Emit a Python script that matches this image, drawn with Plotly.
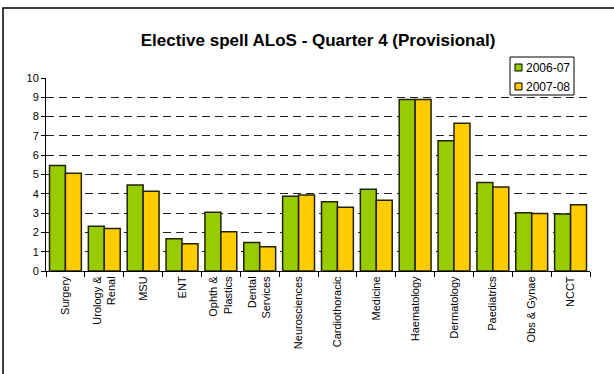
import plotly.graph_objects as go

categories = ["Surgery", "Urology &<br>Renal", "MSU", "ENT", "Ophth &<br>Plastics",
              "Dental<br>Services", "Neurosciences", "Cardiothoracic", "Medicine",
              "Haematology", "Dermatology", "Paediatrics", "Obs & Gynae", "NCCT"]
v2006 = [5.46, 2.32, 4.45, 1.67, 3.04, 1.48, 3.87, 3.59, 4.24, 8.88, 6.75, 4.59, 3.02, 2.95]
v2007 = [5.06, 2.20, 4.13, 1.41, 2.04, 1.26, 3.94, 3.30, 3.66, 8.88, 7.66, 4.35, 2.98, 3.43]
series_names = ["2006-07", "2007-08"]
series_colors = ["#99CC00", "#FFCC00"]
y_ticks = list(range(0, 11))

font = "Liberation Sans, Arial, sans-serif"

# plot area in pixels
X0, X1, Y0, Y1 = 46, 590, 78, 271
def px(x):
    return (x - X0) / (X1 - X0)
def py(y):
    return (Y1 - y) / (Y1 - Y0)

fig = go.Figure()
for name, vals, col in zip(series_names, [v2006, v2007], series_colors):
    fig.add_trace(go.Bar(x=categories, y=vals, name=name, showlegend=False,
                         marker=dict(color=col, line=dict(color="#222200", width=1.5))))

shapes = [dict(type="rect", xref="paper", yref="paper",
               x0=px(3), x1=px(640), y0=py(400), y1=py(8),
               line=dict(color="black", width=1.5), layer="below"),
          dict(type="rect", xref="paper", yref="paper",
               x0=px(510), x1=px(574), y0=py(95), y1=py(57),
               line=dict(color="black", width=1), fillcolor="white", layer="above")]
annotations = []
for i, (name, col) in enumerate(zip(series_names, series_colors)):
    cy = 67.5 + 19 * i
    shapes.append(dict(type="rect", xref="paper", yref="paper",
                       x0=px(515), x1=px(522), y0=py(cy + 3.5), y1=py(cy - 3.5),
                       line=dict(color="black", width=1), fillcolor=col, layer="above"))
    annotations.append(dict(text=name, xref="paper", yref="paper",
                            x=px(524), y=py(cy), xanchor="left", yanchor="middle",
                            showarrow=False, font=dict(size=12, family=font, color="black")))

fig.update_layout(
    width=614, height=374,
    margin=dict(l=X0, r=614 - X1, t=Y0, b=374 - Y1),
    paper_bgcolor="white", plot_bgcolor="white",
    font=dict(family=font, size=11, color="black"),
    barmode="group", bargap=0.18, bargroupgap=0.0,
    title=dict(text="<b>Elective spell ALoS - Quarter 4 (Provisional)</b>",
               x=0.5, xref="paper", xanchor="center", y=1 - 40 / 374, yanchor="middle",
               font=dict(size=17, family=font, color="black")),
    showlegend=False,
    shapes=shapes,
    annotations=annotations,
)
fig.update_xaxes(showline=True, linecolor="black", linewidth=1,
                 ticks="outside", ticklen=5, tickcolor="black", tickson="boundaries",
                 tickangle=-90, tickfont=dict(size=11), showgrid=False)
fig.update_yaxes(range=[0, 10], tickvals=y_ticks, showline=True, linecolor="black",
                 linewidth=1, ticks="outside", ticklen=4, tickcolor="black",
                 showgrid=True, gridcolor="#222222", gridwidth=1, griddash="8px,5px",
                 zeroline=False, tickfont=dict(size=11))

fig.write_html("out.html")
